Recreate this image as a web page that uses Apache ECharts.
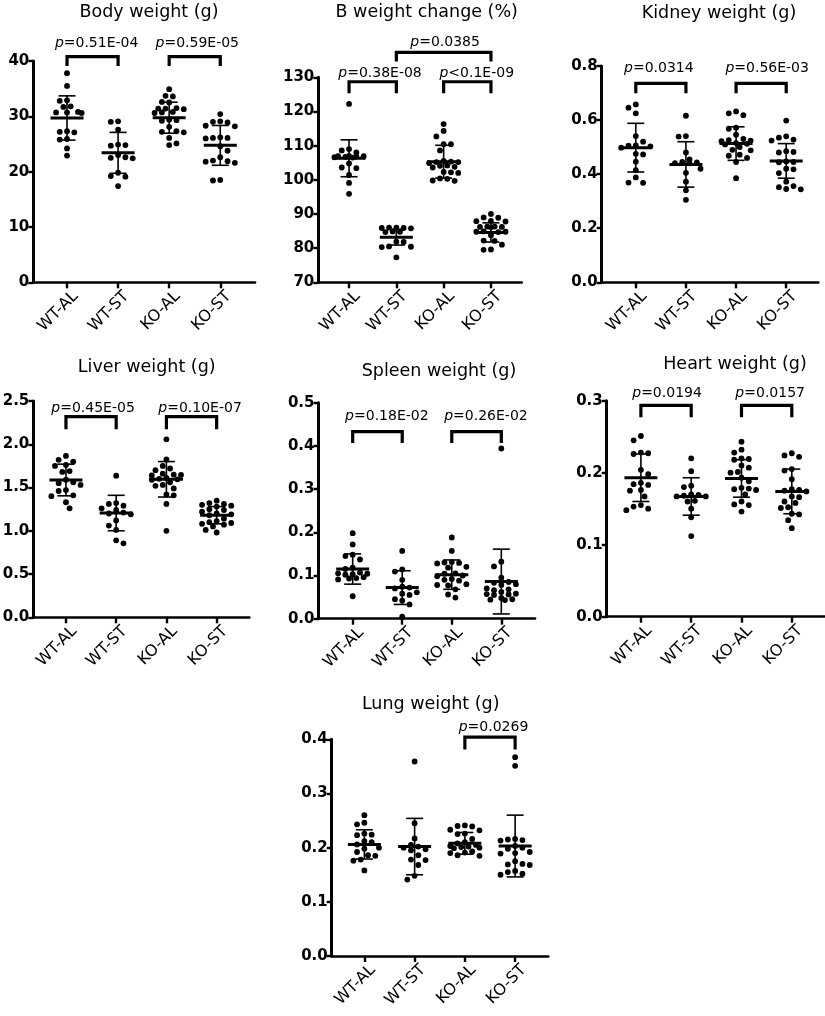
<!DOCTYPE html>
<html><head><meta charset="utf-8">
<script src="https://cdn.jsdelivr.net/npm/echarts@6/dist/echarts.min.js"></script>
<style>html,body{margin:0;padding:0;background:#fff}#c{width:825px;height:1016px}</style>
</head><body><div id="c"></div>
<script>
// ---------- DATA ----------
const groups = ['WT-AL', 'WT-ST', 'KO-AL', 'KO-ST'];

const titles = ['Body weight (g)', 'B weight change (%)', 'Kidney weight (g)', 'Liver weight (g)', 'Spleen weight (g)', 'Heart weight (g)', 'Lung weight (g)'];

// Body weight (g)
const bodyWtAL = [37.8, 35.5, 32.8, 32.9, 31.7, 31.8, 30.7, 30.6, 30.8, 30.7, 27.2, 27.1, 27.3, 25.9, 25.8, 24.2, 22.9];
const bodyWtST = [29.0, 29.1, 27.6, 24.8, 24.7, 24.9, 23.0, 22.5, 22.6, 22.4, 19.8, 19.2, 19.1, 17.4];
const bodyKoAL = [34.9, 33.7, 33.6, 32.5, 32.6, 31.4, 31.5, 31.3, 31.4, 30.7, 30.6, 30.8, 29.3, 29.2, 29.4, 28.1, 27.2, 27.1, 27.3, 26.1, 25.1, 24.8];
const bodyKoST = [30.4, 29.0, 29.1, 28.9, 28.3, 28.2, 26.1, 26.2, 26.0, 26.1, 24.6, 23.8, 22.6, 21.9, 21.8, 22.0, 21.6, 18.5, 18.4];
const bodyMean = [29.7, 23.4, 29.75, 24.75];
const bodySD = [4.0, 3.7, 2.8, 3.6];
const bodyTicks = [0, 10, 20, 30, 40];
// [from, to, bracket top, leg end, label x, label y, operator, p]
const bodyBrackets = [[0, 1, 40.8, 39.1, 0.58, 43.25, '=', '0.51E-04'], [2, 3, 40.8, 39.1, 2.55, 43.25, '=', '0.59E-05']];

// B weight change (%)
const bwWtAL = [122.2, 109.0, 108.6, 108.0, 107.0, 106.9, 106.9, 106.8, 106.7, 106.6, 106.5, 104.8, 103.6, 103.4, 101.4, 99.1, 95.9];
const bwWtST = [85.9, 86.0, 85.8, 85.9, 86.0, 84.8, 84.7, 84.9, 81.8, 81.9, 80.4, 80.3, 80.5, 77.3];
const bwKoAL = [116.3, 114.3, 112.7, 110.4, 110.4, 108.6, 105.5, 105.3, 105.2, 105.2, 104.9, 104.2, 104.1, 103.8, 103.6, 102.3, 102.2, 102.0, 100.4, 100.3, 99.8, 99.7];
const bwKoST = [90.0, 89.0, 88.9, 88.0, 87.9, 87.8, 86.3, 86.2, 86.1, 86.2, 86.3, 84.9, 84.8, 84.7, 84.8, 83.8, 82.2, 82.1, 81.0, 79.6, 79.5];
const bwMean = [106.3, 83.2, 105.3, 84.6];
const bwSD = [5.4, 2.3, 4.8, 2.8];
const bwTicks = [70, 80, 90, 100, 110, 120, 130];
const bwBrackets = [[0, 1, 128.7, 125.3, 0.655, 131.2, '=', '0.38E-08'], [2, 3, 128.7, 125.3, 2.70, 131.2, '<', '0.1E-09'], [1, 3, 137.3, 134.6, 2.03, 140.2, '=', '0.0385']];

// Kidney weight (g)
const kidWtAL = [0.658, 0.646, 0.625, 0.541, 0.520, 0.506, 0.505, 0.503, 0.498, 0.475, 0.473, 0.446, 0.415, 0.388, 0.369, 0.368];
const kidWtST = [0.616, 0.541, 0.539, 0.480, 0.455, 0.420, 0.445, 0.443, 0.441, 0.440, 0.405, 0.372, 0.340, 0.305];
const kidKoAL = [0.632, 0.625, 0.618, 0.572, 0.568, 0.546, 0.526, 0.524, 0.522, 0.515, 0.512, 0.510, 0.500, 0.530, 0.490, 0.488, 0.472, 0.468, 0.460, 0.445, 0.385];
const kidKoST = [0.598, 0.540, 0.535, 0.528, 0.524, 0.485, 0.482, 0.480, 0.447, 0.445, 0.444, 0.420, 0.418, 0.404, 0.372, 0.356, 0.352, 0.345, 0.344];
const kidMean = [0.498, 0.436, 0.513, 0.449];
const kidSD = [0.090, 0.084, 0.062, 0.064];
const kidTicks = [0, 0.2, 0.4, 0.6, 0.8];
const kidBrackets = [[0, 1, 0.736, 0.699, 0.46, 0.793, '=', '0.0314'], [2, 3, 0.736, 0.699, 2.62, 0.793, '=', '0.56E-03']];

// Liver weight (g)
const livWtAL = [1.865, 1.82, 1.80, 1.76, 1.75, 1.69, 1.68, 1.59, 1.56, 1.55, 1.53, 1.47, 1.46, 1.41, 1.40, 1.33, 1.26];
const livWtST = [1.637, 1.32, 1.31, 1.29, 1.26, 1.24, 1.21, 1.20, 1.19, 1.12, 1.06, 1.01, 0.89, 0.855];
const livKoAL = [2.057, 1.826, 1.75, 1.72, 1.70, 1.66, 1.65, 1.645, 1.64, 1.61, 1.60, 1.595, 1.59, 1.56, 1.53, 1.52, 1.49, 1.42, 1.41, 1.31, 1.00];
const livKoST = [1.348, 1.32, 1.31, 1.30, 1.29, 1.28, 1.25, 1.24, 1.22, 1.20, 1.19, 1.18, 1.14, 1.11, 1.10, 1.09, 1.08, 1.07, 1.05, 1.01, 0.98];
const livMean = [1.587, 1.205, 1.595, 1.18];
const livSD = [0.183, 0.205, 0.205, 0.10];
const livTicks = [0, 0.5, 1.0, 1.5, 2.0, 2.5];
const livBrackets = [[0, 1, 2.319, 2.173, 0.54, 2.42, '=', '0.45E-05'], [2, 3, 2.319, 2.173, 2.67, 2.42, '=', '0.10E-07']];

// Spleen weight (g)
const splWtAL = [0.198, 0.172, 0.148, 0.145, 0.137, 0.118, 0.115, 0.107, 0.105, 0.104, 0.103, 0.102, 0.096, 0.094, 0.093, 0.091, 0.052];
const splWtST = [0.157, 0.114, 0.109, 0.090, 0.074, 0.072, 0.070, 0.061, 0.058, 0.055, 0.045, 0.042, 0.033, 0.005];
const splKoAL = [0.188, 0.157, 0.131, 0.130, 0.129, 0.128, 0.120, 0.118, 0.105, 0.104, 0.100, 0.098, 0.092, 0.090, 0.088, 0.080, 0.078, 0.077, 0.068, 0.056, 0.049];
const splKoST = [0.394, 0.132, 0.121, 0.095, 0.085, 0.083, 0.080, 0.078, 0.070, 0.068, 0.066, 0.062, 0.058, 0.057, 0.056, 0.055, 0.048, 0.045, 0.044, 0.043];
const splMean = [0.115, 0.072, 0.102, 0.086];
const splSD = [0.035, 0.039, 0.034, 0.075];
const splTicks = [0, 0.1, 0.2, 0.3, 0.4, 0.5];
const splBrackets = [[0, 1, 0.433, 0.407, 0.69, 0.4676, '=', '0.18E-02'], [2, 3, 0.433, 0.407, 2.69, 0.4676, '=', '0.26E-02']];

// Heart weight (g)
const hrtWtAL = [0.251, 0.245, 0.228, 0.227, 0.226, 0.204, 0.198, 0.186, 0.184, 0.183, 0.176, 0.175, 0.167, 0.155, 0.153, 0.150, 0.148];
const hrtWtST = [0.220, 0.202, 0.182, 0.180, 0.170, 0.169, 0.168, 0.167, 0.167, 0.161, 0.160, 0.150, 0.138, 0.112];
const hrtKoAL = [0.243, 0.232, 0.228, 0.220, 0.219, 0.218, 0.210, 0.207, 0.201, 0.200, 0.193, 0.188, 0.179, 0.178, 0.177, 0.176, 0.170, 0.160, 0.156, 0.155, 0.146];
const hrtKoST = [0.227, 0.224, 0.222, 0.205, 0.203, 0.191, 0.177, 0.176, 0.175, 0.174, 0.167, 0.166, 0.160, 0.158, 0.152, 0.151, 0.143, 0.142, 0.134, 0.123];
const hrtMean = [0.193, 0.167, 0.192, 0.174];
const hrtSD = [0.033, 0.026, 0.026, 0.031];
const hrtTicks = [0, 0.1, 0.2, 0.3];
const hrtBrackets = [[0, 1, 0.2936, 0.277, 0.52, 0.3097, '=', '0.0194'], [2, 3, 0.2936, 0.277, 2.57, 0.3097, '=', '0.0157']];

// Lung weight (g)
const lngWtAL = [0.260, 0.246, 0.243, 0.226, 0.224, 0.223, 0.212, 0.210, 0.206, 0.200, 0.198, 0.192, 0.186, 0.185, 0.178, 0.176, 0.158];
const lngWtST = [0.359, 0.245, 0.217, 0.205, 0.202, 0.200, 0.197, 0.195, 0.186, 0.178, 0.177, 0.168, 0.148, 0.141];
const lngKoAL = [0.241, 0.240, 0.239, 0.233, 0.232, 0.226, 0.225, 0.210, 0.205, 0.216, 0.208, 0.203, 0.202, 0.201, 0.200, 0.199, 0.193, 0.191, 0.190, 0.186, 0.185];
const lngKoST = [0.367, 0.351, 0.216, 0.215, 0.214, 0.213, 0.203, 0.200, 0.198, 0.192, 0.190, 0.189, 0.175, 0.170, 0.169, 0.168, 0.157, 0.155, 0.152, 0.150];
const lngMean = [0.206, 0.202, 0.208, 0.203];
const lngSD = [0.027, 0.052, 0.020, 0.057];
const lngTicks = [0, 0.1, 0.2, 0.3, 0.4];
const lngBrackets = [[2, 3, 0.404, 0.381, 2.57, 0.4215, '=', '0.0269']];

// ---------- LAYOUT / STYLE ----------
const FONT = 'DejaVu Sans';
// grid [left, top, width, height], x range, title centre, decimals
const layout = [
  { grid: [33.3, 61, 221.7, 221.3], xr: [-0.66, 3.68], t: [149, 12.5], dec: 0 },
  { grid: [318.3, 77.3, 203.4, 205], xr: [-0.65, 3.65], t: [426.7, 12.3], dec: 0 },
  { grid: [601.7, 66, 216.6, 216.3], xr: [-0.68, 3.64], t: [719, 13.3], dec: 1 },
  { grid: [33.3, 401, 216, 216.3], xr: [-0.65, 3.65], t: [146.7, 367.3], dec: 1 },
  { grid: [318.5, 402.7, 216.5, 216], xr: [-0.69, 3.68], t: [439, 371.7], dec: 1 },
  { grid: [606.7, 400.7, 218.8, 216], xr: [-0.68, 3.67], t: [735, 364], dec: 1 },
  { grid: [331.7, 739.3, 216.6, 216.7], xr: [-0.65, 3.66], t: [430.7, 704], dec: 1 }
];

const panels = [
  { pts: [bodyWtAL, bodyWtST, bodyKoAL, bodyKoST], mean: bodyMean, sd: bodySD, ticks: bodyTicks, br: bodyBrackets },
  { pts: [bwWtAL, bwWtST, bwKoAL, bwKoST], mean: bwMean, sd: bwSD, ticks: bwTicks, br: bwBrackets },
  { pts: [kidWtAL, kidWtST, kidKoAL, kidKoST], mean: kidMean, sd: kidSD, ticks: kidTicks, br: kidBrackets },
  { pts: [livWtAL, livWtST, livKoAL, livKoST], mean: livMean, sd: livSD, ticks: livTicks, br: livBrackets },
  { pts: [splWtAL, splWtST, splKoAL, splKoST], mean: splMean, sd: splSD, ticks: splTicks, br: splBrackets },
  { pts: [hrtWtAL, hrtWtST, hrtKoAL, hrtKoST], mean: hrtMean, sd: hrtSD, ticks: hrtTicks, br: hrtBrackets },
  { pts: [lngWtAL, lngWtST, lngKoAL, lngKoST], mean: lngMean, sd: lngSD, ticks: lngTicks, br: lngBrackets }
];

// beeswarm layout (pixels)
const HS = 3.65;     // half column step
const DOT = 6.8;     // min centre distance
const MAXOFF = 16;   // max horizontal offset

function swarmOffsets(vals, pxPerY) {
  const order = vals.map((v, i) => i).sort((a, b) => vals[b] - vals[a]);
  const off = new Array(vals.length).fill(0);
  const placed = [];
  let left = 0, right = 0;
  order.forEach(i => {
    const y = vals[i] * pxPerY;
    const cands = [0];
    for (let k = 1; k * HS <= MAXOFF + 0.01; k++) {
      if (left <= right) cands.push(-k * HS, k * HS); else cands.push(k * HS, -k * HS);
    }
    let best = null, bestD = -1;
    for (const x of cands) {
      let dmin = Infinity;
      for (const q of placed) dmin = Math.min(dmin, Math.hypot(q[0] - x, q[1] - y));
      if (dmin >= DOT) { best = x; bestD = dmin; break; }
      if (dmin > bestD) { bestD = dmin; best = x; }
    }
    placed.push([best, y]);
    off[i] = best;
    if (best < 0) left++; else if (best > 0) right++;
  });
  return off;
}

const grids = [], xAxes = [], yAxes = [], series = [], titleOpts = [];

panels.forEach((p, i) => {
  const L = layout[i];
  const [gl, gt, gw, gh] = L.grid;
  const ymin = p.ticks[0], ymax = p.ticks[p.ticks.length - 1];
  const pxPerY = gh / (ymax - ymin);
  const pxPerX = gw / (L.xr[1] - L.xr[0]);

  grids.push({ left: gl, top: gt, width: gw, height: gh, containLabel: false, outerBoundsMode: 'none' });
  titleOpts.push({
    text: titles[i], left: L.t[0], top: L.t[1] - 11, textAlign: 'center', padding: 0,
    textStyle: { fontFamily: FONT, fontSize: 17.5, fontWeight: 'normal', color: '#000', lineHeight: 22 }
  });
  xAxes.push({
    type: 'value', gridIndex: i, min: L.xr[0], max: L.xr[1],
    axisLine: { show: true, onZero: false, lineStyle: { color: '#000', width: 2.6 } },
    axisTick: { show: true, customValues: [0, 1, 2, 3], length: 6, lineStyle: { color: '#000', width: 2.4 } },
    axisLabel: {
      show: true, customValues: [0, 1, 2, 3], rotate: 45, margin: 3,
      verticalAlign: 'top', lineHeight: 24,
      formatter: v => groups[Math.round(v)],
      fontFamily: FONT, fontSize: 16, color: '#000'
    },
    splitLine: { show: false }
  });
  yAxes.push({
    type: 'value', gridIndex: i, min: ymin, max: ymax, interval: p.ticks[1] - p.ticks[0],
    axisLine: { show: true, onZero: false, lineStyle: { color: '#000', width: 3 } },
    axisTick: { show: true, length: 5, lineStyle: { color: '#000', width: 2.4 } },
    axisLabel: {
      fontFamily: FONT, fontSize: 15, fontWeight: 'bold', color: '#000', margin: 4,
      formatter: v => v.toFixed(L.dec)
    },
    splitLine: { show: false }
  });

  // dots
  const dots = [];
  p.pts.forEach((vals, g) => {
    const off = swarmOffsets(vals, pxPerY);
    vals.forEach((v, k) => dots.push([g + off[k] / pxPerX, v]));
  });
  series.push({
    type: 'scatter', xAxisIndex: i, yAxisIndex: i, data: dots, symbol: 'circle', symbolSize: 5.8,
    itemStyle: { color: '#000', opacity: 1 }, silent: true, z: 2, clip: false
  });

  // mean and SD
  series.push({
    type: 'custom', xAxisIndex: i, yAxisIndex: i, z: 3, silent: true, clip: false,
    data: p.mean.map((m, g) => [g, m, p.sd[g]]),
    renderItem: (params, api) => {
      const c = api.value(0), m = api.value(1), s = api.value(2);
      const pm = api.coord([c, m]), pt = api.coord([c, m + s]), pb = api.coord([c, m - s]);
      const st = { stroke: '#000', lineWidth: 1.6 };
      return {
        type: 'group', children: [
          { type: 'line', shape: { x1: pt[0], y1: pt[1], x2: pb[0], y2: pb[1] }, style: st },
          { type: 'line', shape: { x1: pt[0] - 8.5, y1: pt[1], x2: pt[0] + 8.5, y2: pt[1] }, style: st },
          { type: 'line', shape: { x1: pb[0] - 8.5, y1: pb[1], x2: pb[0] + 8.5, y2: pb[1] }, style: st },
          { type: 'line', shape: { x1: pm[0] - 16.5, y1: pm[1], x2: pm[0] + 16.5, y2: pm[1] }, style: { stroke: '#000', lineWidth: 3 } }
        ]
      };
    }
  });

  // significance brackets
  series.push({
    type: 'custom', xAxisIndex: i, yAxisIndex: i, z: 4, silent: true, clip: false,
    data: p.br.map(b => [b[0], b[1], b[2], b[3], b[4], b[5]]),
    renderItem: (params, api) => {
      const a = api.value(0), b = api.value(1), top = api.value(2), leg = api.value(3);
      const p1 = api.coord([a, leg]), p2 = api.coord([a, top]), p3 = api.coord([b, top]), p4 = api.coord([b, leg]);
      const pt = api.coord([api.value(4), api.value(5)]);
      const info = p.br[params.dataIndex];
      return {
        type: 'group', children: [
          { type: 'polyline', shape: { points: [p1, p2, p3, p4] }, style: { stroke: '#000', lineWidth: 3.2, fill: null, lineJoin: 'miter', lineCap: 'butt' } },
          {
            type: 'text', x: pt[0], y: pt[1],
            style: {
              text: '{i|p}' + info[6] + info[7], fill: '#000', fontFamily: FONT, fontSize: 14,
              align: 'center', verticalAlign: 'middle', textAlign: 'center', textVerticalAlign: 'middle',
              rich: { i: { fontStyle: 'italic', fontFamily: FONT, fontSize: 14, fill: '#000' } }
            }
          }
        ]
      };
    }
  });
});

const chart = echarts.init(document.getElementById('c'), null, { renderer: 'canvas' });
chart.setOption({
  backgroundColor: '#fff',
  animation: false,
  title: titleOpts,
  grid: grids,
  xAxis: xAxes,
  yAxis: yAxes,
  series: series
});
</script>
</body></html>
